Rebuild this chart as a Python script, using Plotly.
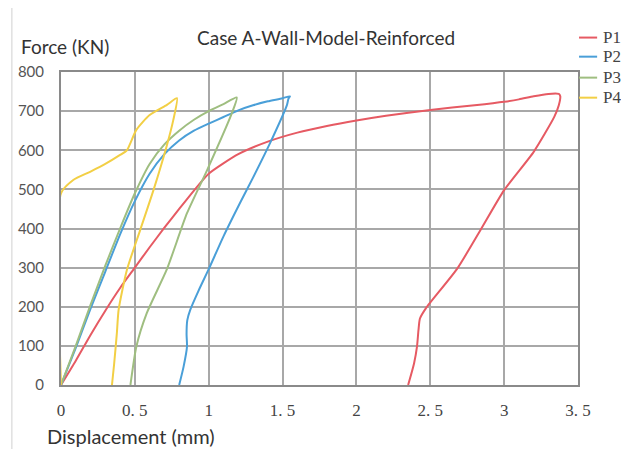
import plotly.graph_objects as go

# P1 (red)
p1_x = [0, 0.1, 0.2, 0.3, 0.4, 0.5, 0.6, 0.7, 0.8, 0.9, 1.0, 1.2, 1.4, 1.6, 1.8, 2.0, 2.2, 2.5, 2.8, 3.0, 3.1, 3.2, 3.3, 3.37, 3.38, 3.37, 3.34, 3.2, 3.0, 2.84, 2.68, 2.47, 2.43, 2.42, 2.41, 2.39, 2.35]
p1_y = [0, 62, 128, 190, 248, 300, 352, 402, 450, 497, 540, 590, 622, 645, 662, 676, 688, 703, 715, 724, 730, 738, 744, 744, 738, 715, 686, 596, 498, 396, 296, 196, 170, 140, 98, 55, 0]
# P2 (blue)
p2_x = [0, 0.1, 0.2, 0.3, 0.4, 0.5, 0.6, 0.7, 0.8, 0.9, 1.0, 1.1, 1.2, 1.3, 1.4, 1.5, 1.55, 1.54, 1.53, 1.42, 1.3, 1.21, 1.1, 1.0, 0.93, 0.875, 0.855, 0.85, 0.853, 0.83, 0.8]
p2_y = [0, 95, 195, 290, 385, 470, 540, 590, 625, 650, 668, 685, 702, 715, 725, 733, 738, 732, 716, 622, 530, 464, 380, 296, 240, 192, 166, 130, 98, 47, 0]
# P3 (green)
p3_x = [0, 0.1, 0.2, 0.3, 0.4, 0.5, 0.6, 0.7, 0.8, 0.9, 1.0, 1.1, 1.19, 1.16, 0.99, 0.853, 0.717, 0.58, 0.51, 0.47]
p3_y = [0, 100, 205, 305, 400, 490, 565, 615, 650, 678, 700, 718, 735, 698, 550, 439, 296, 183, 98, 0]
# P4 (yellow)
p4_x = [0, 0, 0.083, 0.197, 0.3, 0.4, 0.446, 0.51, 0.6, 0.717, 0.785, 0.76, 0.717, 0.626, 0.536, 0.446, 0.39, 0.378, 0.36, 0.345]
p4_y = [0, 490, 524, 545, 565, 588, 600, 652, 690, 716, 733, 677, 613, 498, 396, 294, 192, 132, 55, 0]

series_names = ["P1", "P2", "P3", "P4"]
series_x = [p1_x, p2_x, p3_x, p4_x]
series_y = [p1_y, p2_y, p3_y, p4_y]
colors = ["#e65a63", "#4a9fd8", "#9fbe80", "#f2cf45"]

x_ticks = [0, 0.5, 1, 1.5, 2, 2.5, 3, 3.5]
x_tick_text = ["0", "0. 5", "1", "1. 5", "2", "2. 5", "3", "3. 5"]
y_ticks = [0, 100, 200, 300, 400, 500, 600, 700, 800]

fig = go.Figure()
for name, xs, ys, c in zip(series_names, series_x, series_y, colors):
    fig.add_trace(go.Scatter(x=xs, y=ys, mode="lines", name=name, showlegend=False,
                             line=dict(color=c, width=2, shape="spline", smoothing=0.6)))

# manual legend (compact spacing as in the reference)
legend_y = [1.11, 1.049, 0.982, 0.918]
shapes = [dict(type="line", xref="paper", yref="paper", x0=-0.095, x1=-0.095,
               y0=-0.21, y1=1.23, line=dict(color="#d0d0d0", width=1))]
annotations = []
for name, c, ly in zip(series_names, colors, legend_y):
    shapes.append(dict(type="line", xref="paper", yref="paper", x0=1.002, x1=1.037,
                       y0=ly, y1=ly, line=dict(color=c, width=2)))
    annotations.append(dict(text=name, xref="paper", yref="paper", x=1.045, y=ly,
                            xanchor="left", yanchor="middle", showarrow=False,
                            font=dict(family="Liberation Serif", size=17, color="#444")))

annotations += [
    dict(text="Force (KN)", xref="paper", yref="paper", x=-0.0805, y=1.08,
         xanchor="left", yanchor="middle", showarrow=False,
         font=dict(family="Lato", size=19, color="#333")),
    dict(text="Displacement (mm)", xref="paper", yref="paper", x=-0.031, y=-0.163,
         xanchor="left", yanchor="middle", showarrow=False,
         font=dict(family="Lato", size=20, color="#333")),
    dict(text="Case A-Wall-Model-Reinforced", xref="paper", yref="paper", x=0.5135, y=1.11,
         xanchor="center", yanchor="middle", showarrow=False,
         font=dict(family="Lato", size=19, color="#333")),
]

# page body has an 8px margin, so the figure is 8px smaller and margins compensate
fig.update_layout(
    width=621, height=441,
    margin=dict(l=53, r=51, t=64, b=64, pad=0),
    paper_bgcolor="white", plot_bgcolor="white",
    showlegend=False,
    annotations=annotations,
    shapes=shapes,
)

fig.update_xaxes(range=[0, 3.5], tickvals=x_ticks, ticktext=x_tick_text, automargin=False,
                 showgrid=True, gridcolor="#a8a8a8", gridwidth=2,
                 showline=True, linecolor="#8a8a8a", linewidth=2, mirror=True,
                 zeroline=False, ticks="", ticklabelstandoff=9,
                 tickfont=dict(family="Liberation Serif", size=17, color="#444"))
fig.update_yaxes(range=[0, 800], tickvals=y_ticks, automargin=False,
                 showgrid=True, gridcolor="#a8a8a8", gridwidth=2,
                 showline=True, linecolor="#8a8a8a", linewidth=2, mirror=True,
                 zeroline=False, ticks="", ticklabelstandoff=12,
                 tickfont=dict(family="Lato", size=15, color="#555"))

fig.write_html("out.html")
